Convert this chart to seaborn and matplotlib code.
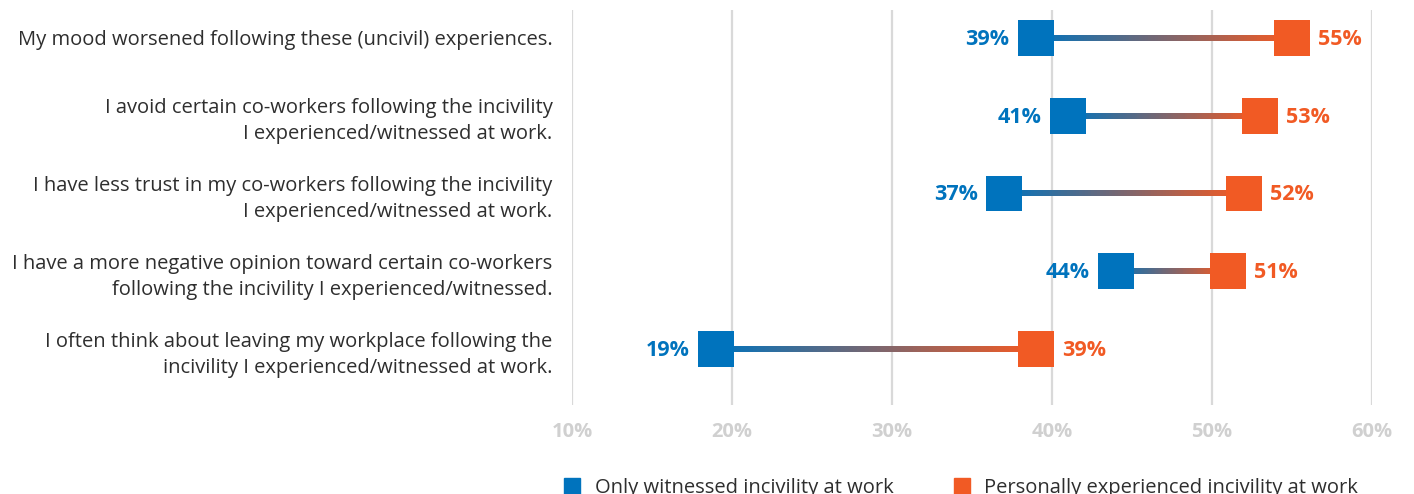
import numpy as np
import pandas as pd
import matplotlib
matplotlib.use("Agg")
import matplotlib.pyplot as plt
from matplotlib.collections import LineCollection
from matplotlib.colors import to_rgb
from matplotlib.lines import Line2D
import seaborn as sns

statements = [
    "My mood worsened following these (uncivil) experiences.",
    "I avoid certain co-workers following the incivility\nI experienced/witnessed at work.",
    "I have less trust in my co-workers following the incivility\nI experienced/witnessed at work.",
    "I have a more negative opinion toward certain co-workers\nfollowing the incivility I experienced/witnessed.",
    "I often think about leaving my workplace following the\nincivility I experienced/witnessed at work.",
]
witnessed = [39, 41, 37, 44, 19]
experienced = [55, 53, 52, 51, 39]
series_names = ["Only witnessed incivility at work", "Personally experienced incivility at work"]
x_ticks = [10, 20, 30, 40, 50, 60]

BLUE = "#0073BD"
ORANGE = "#F15A24"
GRID = "#D9D9D9"
TICK = "#D0D0D0"
TEXT = "#2E2E2E"

sns.set_theme(style="white")
plt.rcParams["font.family"] = ["Open Sans", "DejaVu Sans"]

rows = np.arange(len(statements))
df = pd.DataFrame({
    "row": np.concatenate([rows, rows]),
    "value": witnessed + experienced,
    "group": [series_names[0]] * len(rows) + [series_names[1]] * len(rows),
})

fig = plt.figure(figsize=(14.14, 4.94), dpi=100)
ax = fig.add_axes([0.4045, 0.180, 0.5658, 0.800])

# gradient connector from blue to orange for each statement
c0, c1 = np.array(to_rgb(BLUE)), np.array(to_rgb(ORANGE))
n = 80
for r, a, b in zip(rows, witnessed, experienced):
    xs = np.linspace(a, b, n + 1)
    segs = [[(xs[i], r), (xs[i + 1], r)] for i in range(n)]
    t = np.linspace(0, 1, n)[:, None]
    cols = c0 * (1 - t) + c1 * t
    lc = LineCollection(segs, colors=cols, linewidths=4.0, capstyle="projecting",
                        antialiaseds=False, zorder=2)
    ax.add_collection(lc)

sns.scatterplot(
    data=df, x="value", y="row", hue="group", palette=[BLUE, ORANGE],
    marker="s", s=670, linewidth=0, legend=False, ax=ax, zorder=3,
)

for r, a, b in zip(rows, witnessed, experienced):
    ax.annotate(f"{a}%", (a, r), xytext=(-19, -1), textcoords="offset points",
                ha="right", va="center", fontsize=15.5, fontweight="bold", color=BLUE)
    ax.annotate(f"{b}%", (b, r), xytext=(19, -1), textcoords="offset points",
                ha="left", va="center", fontsize=15.5, fontweight="bold", color=ORANGE)

ax.set_xlim(10, 60)
ax.set_ylim(4.72, -0.36)
ax.set_xticks(x_ticks)
ax.set_xticklabels([f"{t}%" for t in x_ticks], fontsize=14.5, fontweight="bold", color=TICK)
ax.set_yticks(rows)
ax.set_yticklabels(statements, fontsize=14.5, color=TEXT, linespacing=1.4)
ax.tick_params(axis="y", length=0, pad=14)
ax.tick_params(axis="x", length=0, pad=12)
ax.grid(axis="x", color=GRID, linewidth=1.6)
ax.grid(axis="y", visible=False)
for s in ax.spines.values():
    s.set_visible(False)
ax.set_xlabel("")
ax.set_ylabel("")

handles = [Line2D([0], [0], marker="s", linestyle="", markersize=12, color=c) for c in (BLUE, ORANGE)]
fig.legend(handles, series_names, loc="center", bbox_to_anchor=(0.679, 0.013), ncol=2,
           frameon=False, fontsize=14.5, handletextpad=0.6, columnspacing=2.9,
           labelcolor=TEXT, handlelength=1.0)

fig.savefig("out.png", dpi=100)
